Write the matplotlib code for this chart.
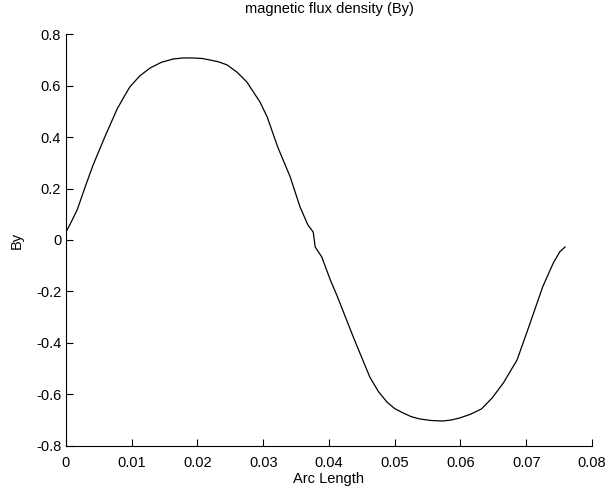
import matplotlib.pyplot as plt

plt.rcParams['font.family'] = ['Liberation Sans', 'DejaVu Sans']

# Arc length vs By
arc_length = [0.0, 0.0008, 0.0017, 0.0029, 0.0041, 0.0059, 0.0078, 0.0088,
              0.0097, 0.0112, 0.0128, 0.0145, 0.0163, 0.0178, 0.0193, 0.0207,
              0.0219, 0.0232, 0.0245, 0.0260, 0.0275, 0.0295, 0.0306, 0.0322,
              0.0341, 0.0356, 0.0368, 0.0376, 0.0379, 0.0389, 0.0402, 0.0412,
              0.0437, 0.0462, 0.0475, 0.0488, 0.0500, 0.0513, 0.0525, 0.0538,
              0.0555, 0.0573, 0.0586, 0.0599, 0.0615, 0.0632, 0.0648, 0.0665,
              0.0686, 0.0706, 0.0725, 0.0741, 0.0751, 0.0759]
by = [0.031, 0.07, 0.117, 0.205, 0.29, 0.40, 0.51, 0.555,
      0.594, 0.637, 0.668, 0.690, 0.703, 0.707, 0.707, 0.705,
      0.699, 0.692, 0.680, 0.652, 0.614, 0.536, 0.478, 0.361,
      0.245, 0.128, 0.058, 0.031, -0.027, -0.066, -0.155, -0.215,
      -0.377, -0.532, -0.588, -0.629, -0.655, -0.672, -0.686, -0.695,
      -0.701, -0.703, -0.699, -0.691, -0.677, -0.656, -0.614, -0.556,
      -0.466, -0.322, -0.182, -0.09, -0.046, -0.027]

xticks = [0, 0.01, 0.02, 0.03, 0.04, 0.05, 0.06, 0.07, 0.08]
xticklabels = ['0', '0.01', '0.02', '0.03', '0.04', '0.05', '0.06', '0.07', '0.08']
yticks = [-0.8, -0.6, -0.4, -0.2, 0, 0.2, 0.4, 0.6, 0.8]
yticklabels = ['-0.8', '-0.6', '-0.4', '-0.2', '0', '0.2', '0.4', '0.6', '0.8']

fig = plt.figure(figsize=(6.15, 4.88), dpi=100)
ax = fig.add_axes([0.1073, 0.0861, 0.8553, 0.8442])
ax.plot(arc_length, by, color='black', linewidth=0.9)

ax.set_xlim(0, 0.08)
ax.set_ylim(-0.8, 0.8)
ax.set_xticks(xticks)
ax.set_xticklabels(xticklabels)
ax.set_yticks(yticks)
ax.set_yticklabels(yticklabels)
ax.tick_params(direction='in', length=5, width=0.8, labelsize=10.5)
ax.tick_params(axis='x', pad=7)
ax.tick_params(axis='y', pad=3.5)
for side in ['top', 'right']:
    ax.spines[side].set_visible(False)
for side in ['left', 'bottom']:
    ax.spines[side].set_linewidth(0.8)

ax.set_title('magnetic flux density (By)', fontsize=10.5, pad=15)
ax.set_xlabel('Arc Length', fontsize=10.5, labelpad=2)
ax.set_ylabel('By', fontsize=10.5, labelpad=9)

plt.savefig('out.png', dpi=100)
